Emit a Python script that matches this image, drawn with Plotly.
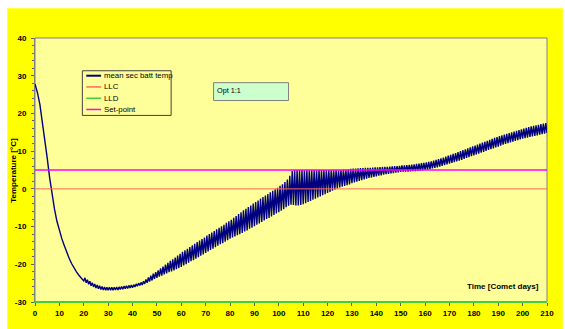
import plotly.graph_objects as go

# ---- data ----
days = list(range(0, 211))

# daily lower / upper values of the oscillating mean secondary battery temperature
temp_low = [
    27.8, 25.5, 22.4, 18.0, 13.2, 8.2, 3.0, -1.6, -5.4, -8.6,
    -11.0, -13.2, -15.0, -16.8, -18.4, -19.8, -21.0, -22.0, -22.9, -23.6,
    -24.4, -24.9, -25.3, -25.7, -26.0, -26.3, -26.5, -26.7, -26.8, -26.9,
    -26.9, -26.9, -26.9, -26.8, -26.8, -26.7, -26.6, -26.5, -26.4, -26.3,
    -26.2, -26.0, -25.8, -25.6,
    -25.5, -25.2, -24.9, -24.6, -24.3, -23.9, -23.6, -23.3, -23.0, -22.7,
    -22.4, -22.1, -21.9, -21.6, -21.3, -21.0, -20.7, -20.3, -20.0, -19.6,
    -19.2, -18.9, -18.5, -18.1, -17.7, -17.4, -17.0, -16.6, -16.2, -15.9,
    -15.5, -15.1, -14.7, -14.4, -14.0, -13.6, -13.2, -12.9, -12.6, -12.3,
    -12.0, -11.7, -11.3, -11.0, -10.6, -10.3, -9.9, -9.5, -9.2, -8.8,
    -8.4, -8.0, -7.7, -7.3, -6.9, -6.5, -6.2, -5.8, -5.4, -4.9,
    -4.5, -4.2,
    -4.3, -4.4, -4.4, -4.3, -4.1, -3.8, -3.5, -3.2, -2.9, -2.6,
    -2.3, -2.0, -1.7, -1.4, -1.1, -0.8, -0.5, -0.2, 0.1, 0.4,
    0.6, 0.8, 1.0, 1.2, 1.5, 1.7, 1.9, 2.1, 2.3, 2.5,
    2.7, 2.9, 3.0, 3.2, 3.3, 3.5, 3.6, 3.8, 3.9, 4.0,
    4.1, 4.2, 4.3, 4.4, 4.5,
    4.55, 4.6, 4.6, 4.65, 4.7, 4.7, 4.75, 4.8, 4.9, 5.0,
    5.1, 5.25, 5.4, 5.55, 5.7, 5.9, 6.1, 6.3, 6.5, 6.7,
    6.9, 7.1, 7.3, 7.5, 7.7, 7.95, 8.2, 8.4, 8.65, 8.9,
    9.1, 9.35, 9.6, 9.8, 10.05, 10.3, 10.5, 10.75, 11.0, 11.2,
    11.45, 11.7, 11.9, 12.1, 12.3, 12.5, 12.7, 12.9, 13.1, 13.3,
    13.45, 13.6, 13.75, 13.9, 14.05, 14.2, 14.35, 14.5, 14.65, 14.8,
]
temp_high = [
    27.8, 25.5, 22.4, 18.0, 13.2, 8.2, 3.0, -1.6, -5.4, -8.6,
    -11.0, -13.2, -15.0, -16.8, -18.4, -19.8, -21.0, -22.0, -22.9, -23.6,
    -23.6, -24.1, -24.5, -24.9, -25.2, -25.5, -25.7, -25.9, -26.0, -26.1,
    -26.1, -26.1, -26.1, -26.0, -26.0, -25.9, -25.8, -25.7, -25.6, -25.5,
    -25.4, -25.2, -25.0, -24.8,
    -24.5, -24.0, -23.5, -23.0, -22.5, -22.1, -21.6, -21.1, -20.6, -20.1,
    -19.6, -19.1, -18.7, -18.2, -17.7, -17.2, -16.7, -16.3, -15.9, -15.4,
    -15.0, -14.6, -14.1, -13.7, -13.3, -12.9, -12.4, -12.0, -11.6, -11.2,
    -10.7, -10.3, -9.9, -9.5, -9.0, -8.6, -8.2, -7.7, -7.2, -6.7,
    -6.2, -5.7, -5.3, -4.8, -4.4, -3.9, -3.5, -3.1, -2.6, -2.2,
    -1.8, -1.4, -0.9, -0.5, -0.1, 0.3, 0.8, 1.2, 1.8, 2.5,
    3.5, 4.8,
    5.0, 5.0, 5.0, 5.0, 5.0, 5.0, 5.0, 5.0, 5.0, 5.0,
    5.0, 5.0, 5.0, 5.0, 5.0, 5.0, 5.0, 5.0, 5.0, 5.05,
    5.1, 5.15, 5.2, 5.3, 5.4, 5.4, 5.45, 5.5, 5.5, 5.55,
    5.6, 5.6, 5.65, 5.7, 5.7, 5.75, 5.8, 5.8, 5.85, 5.9,
    5.95, 6.0, 6.05, 6.1, 6.2,
    6.25, 6.3, 6.35, 6.45, 6.5, 6.6, 6.7, 6.8, 6.9, 7.0,
    7.15, 7.3, 7.5, 7.7, 7.9, 8.1, 8.3, 8.55, 8.8, 9.0,
    9.25, 9.5, 9.75, 10.0, 10.25, 10.5, 10.75, 11.0, 11.25, 11.5,
    11.75, 12.0, 12.25, 12.5, 12.75, 13.0, 13.25, 13.5, 13.75, 14.0,
    14.2, 14.4, 14.6, 14.8, 15.0, 15.2, 15.4, 15.6, 15.8, 16.0,
    16.2, 16.4, 16.55, 16.7, 16.85, 17.0, 17.15, 17.3, 17.45, 17.6,
]
assert len(temp_low) == len(days) and len(temp_high) == len(days)

llc_value = 0
lld_value = -30
setpoint_value = 5
limit_days = [0, 210]

series_names = ["mean sec batt temp", "LLC", "LLD", "Set-point"]
series_colors = ["#000080", "#FF6A5A", "#44CC44", "#FF00FF"]
x_ticks = list(range(0, 211, 10))
y_ticks = list(range(-30, 41, 10))

# interleave daily low/high -> oscillating trace (one point/day where no oscillation)
tx, ty = [], []
for d, lo, hi in zip(days, temp_low, temp_high):
    tx.append(d)
    ty.append(lo)
    if hi != lo:
        tx.append(d + 0.5)
        ty.append(hi)

# ---- figure ----
W, H = 565, 329
L, R, T, B = 35, 11, 38, 25
pw, ph = W - L - R, H - T - B

def px(x):
    return (x - L) / pw

def py(y):
    return (H - B - y) / ph

FONT = "Liberation Sans, Arial, sans-serif"

fig = go.Figure()
fig.add_trace(go.Scatter(x=tx, y=ty, mode="lines", name=series_names[0],
                         line=dict(color=series_colors[0], width=1.4)))
fig.add_trace(go.Scatter(x=limit_days, y=[llc_value] * 2, mode="lines", name=series_names[1],
                         line=dict(color=series_colors[1], width=1)))
fig.add_trace(go.Scatter(x=limit_days, y=[lld_value] * 2, mode="lines", name=series_names[2],
                         line=dict(color=series_colors[2], width=2)))
fig.add_trace(go.Scatter(x=limit_days, y=[setpoint_value] * 2, mode="lines", name=series_names[3],
                         line=dict(color=series_colors[3], width=1.3)))

shapes = [
    # outer yellow chart area
    dict(type="rect", xref="paper", yref="paper", x0=px(7), x1=px(570), y0=py(340), y1=py(8),
         fillcolor="#FFFF00", line=dict(width=0), layer="below"),
    # plot area
    dict(type="rect", xref="paper", yref="paper", x0=0, x1=1, y0=0, y1=1,
         fillcolor="#FFFF99", line=dict(color="#808080", width=1), layer="below"),
    # legend box
    dict(type="rect", xref="paper", yref="paper", x0=px(83), x1=px(173), y0=py(116), y1=py(71),
         fillcolor="#FFFF99", line=dict(color="#404040", width=1), layer="above"),
    # Opt box
    dict(type="rect", xref="paper", yref="paper", x0=px(216), x1=px(292), y0=py(101), y1=py(83),
         fillcolor="#CCFFCC", line=dict(color="#808080", width=1), layer="above"),
]
annotations = []
rows = [76, 87.3, 98.7, 110]
for name, col, yr in zip(series_names, series_colors, rows):
    shapes.append(dict(type="line", xref="paper", yref="paper", x0=px(87), x1=px(102),
                       y0=py(yr), y1=py(yr), line=dict(color=col, width=1.5 if col != "#000080" else 2)))
    annotations.append(dict(xref="paper", yref="paper", x=px(102.5), y=py(yr), text=name,
                            showarrow=False, xanchor="left", yanchor="middle",
                            font=dict(family=FONT, size=7.8, color="#000000")))

annotations += [
    dict(xref="paper", yref="paper", x=px(217.5), y=py(84), text="Opt 1:1", showarrow=False,
         xanchor="left", yanchor="top", font=dict(family=FONT, size=7.3, color="#000000")),
    dict(xref="paper", yref="paper", x=px(548), y=py(288), text="Time [Comet days]", showarrow=False,
         xanchor="right", yanchor="middle", font=dict(family=FONT, size=8, color="#000000", weight="bold")),
    dict(xref="paper", yref="paper", x=px(12.5), y=0.5, text="Temperature [°C]", showarrow=False,
         textangle=-90, xanchor="center", yanchor="middle",
         font=dict(family=FONT, size=8, color="#000000", weight="bold")),
]

fig.update_layout(
    width=W, height=H,
    margin=dict(l=L, r=R, t=T, b=B, pad=0),
    paper_bgcolor="#FFFFFF",
    plot_bgcolor="rgba(0,0,0,0)",
    showlegend=False,
    shapes=shapes,
    annotations=annotations,
    xaxis=dict(range=[0, 210], tickvals=x_ticks, ticktext=[str(v) for v in x_ticks],
               showgrid=False, zeroline=False, showline=True, linecolor="#44CC44", linewidth=1,
               ticks="outside", ticklen=3, tickcolor="#606060",
               tickfont=dict(family=FONT, size=8, color="#000000", weight="bold")),
    yaxis=dict(range=[-30, 40], tickvals=y_ticks, ticktext=[str(v) for v in y_ticks],
               showgrid=False, zeroline=False, showline=True, linecolor="#808080", linewidth=1,
               ticks="outside", ticklen=3, tickcolor="#606060",
               minor=dict(dtick=2, ticks="outside", ticklen=2, tickcolor="#606060", showgrid=False),
               ticklabelstandoff=3,
               tickfont=dict(family=FONT, size=8, color="#000000", weight="bold")),
)

fig.write_html("out.html")
